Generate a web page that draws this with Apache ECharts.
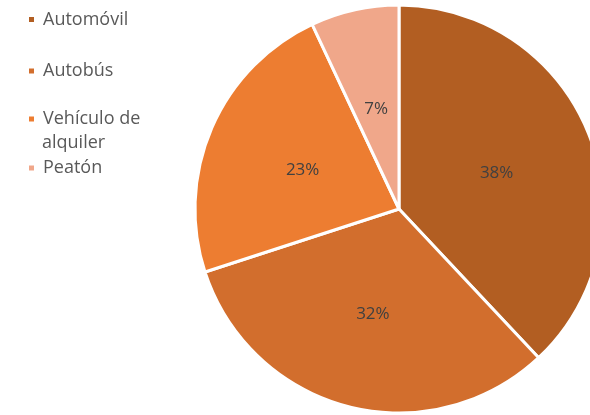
<!DOCTYPE html>
<html>
<head>
<meta charset="utf-8">
<script src="https://cdn.jsdelivr.net/npm/echarts@6/dist/echarts.min.js"></script>
<style>html,body{margin:0;padding:0;background:#fff;}#c{width:590px;height:415px;}</style>
</head>
<body>
<div id="c"></div>
<script>
var categories = ['Automóvil', 'Autobús', 'Vehículo de alquiler', 'Peatón'];
var legendLines = [['Automóvil'], ['Autobús'], ['Vehículo de', 'alquiler'], ['Peatón']];
var values = [38, 32, 23, 7];
var colors = ['#B25E22', '#D26E2D', '#ED7D31', '#F0A78A'];

var FONT = '"Open Sans", sans-serif';
var chart = echarts.init(document.getElementById('c'), null, {renderer: 'canvas'});

var legendTops = [19.5, 71, 119, 168]; // icon centre y
var legends = categories.map(function (name, i) {
  var first = legendLines[i][0];
  return {
    show: true,
    left: 27,
    top: legendTops[i] - 12,
    padding: 0,
    orient: 'vertical',
    selectedMode: false,
    itemWidth: 7,
    itemHeight: 7,
    icon: 'rect',
    data: [name],
    formatter: function () { return first; },
    textStyle: {
      fontFamily: FONT,
      fontSize: 18,
      color: '#595959',
      lineHeight: 24,
      padding: [0, 0, 0, 3]
    }
  };
});

var extraText = [];
legendLines.forEach(function (lines, i) {
  for (var k = 1; k < lines.length; k++) {
    extraText.push({
      type: 'text',
      left: 42,
      top: legendTops[i] + 24 * k - 12,
      style: {
        text: lines[k],
        fontFamily: FONT,
        fontSize: 18,
        fill: '#595959',
        lineHeight: 24
      }
    });
  }
});

chart.setOption({
  backgroundColor: '#ffffff',
  animation: false,
  color: colors,
  legend: legends,
  graphic: extraText,
  series: [{
    type: 'pie',
    center: [399, 209],
    radius: 204,
    startAngle: 90,
    clockwise: true,
    silent: true,
    itemStyle: { borderColor: '#ffffff', borderWidth: 3 },
    label: {
      show: true,
      position: 'inside',
      formatter: function (p) { return '{v|' + p.value + '%}'; },
      rich: {
        v: {
          fontFamily: FONT,
          fontSize: 17,
          color: '#404040',
          padding: [6, 0, 0, 0]
        }
      }
    },
    labelLine: { show: false },
    data: categories.map(function (c, i) { return { name: c, value: values[i] }; })
  }]
});
</script>
</body>
</html>
